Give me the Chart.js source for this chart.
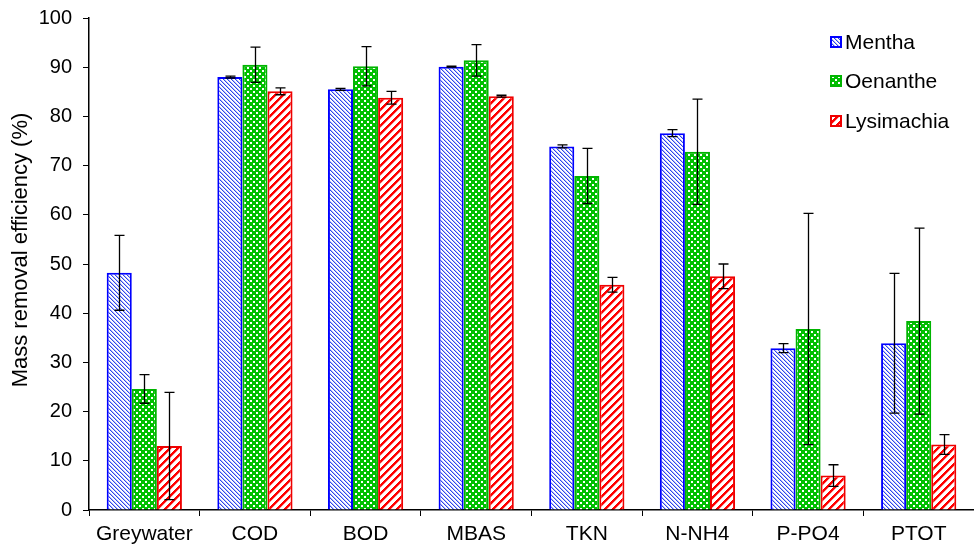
<!DOCTYPE html>
<html>
<head>
<meta charset="utf-8">
<script src="https://cdn.jsdelivr.net/npm/chart.js@4.4.0/dist/chart.umd.min.js"></script>
<style>
  html, body { margin: 0; padding: 0; background: #fff; }
  #wrap { width: 974px; height: 549px; position: relative; }
</style>
</head>
<body>
<div id="wrap"><canvas id="removalChart"></canvas></div>
<script>
// Mass removal efficiency - datos

const categories = ['Greywater', 'COD', 'BOD', 'MBAS', 'TKN', 'N-NH4', 'P-PO4', 'PTOT'];
const seriesNames = ['Mentha', 'Oenanthe', 'Lysimachia'];

const mentha = [48.2, 88.0, 85.5, 90.1, 73.9, 76.6, 32.9, 33.9];
const oenanthe = [24.6, 90.5, 90.2, 91.4, 67.9, 72.8, 36.8, 38.4];
const lysimachia = [13.0, 85.1, 83.8, 84.1, 45.8, 47.5, 7.0, 13.3];

const menthaErr = [7.6, 0.2, 0.2, 0.1, 0.3, 0.7, 0.9, 14.2];
const oenantheErr = [2.9, 3.6, 4.0, 3.2, 5.6, 10.7, 23.5, 18.9];
const lysimachiaErr = [10.9, 0.7, 1.3, 0.2, 1.5, 2.5, 2.2, 2.0];

const yTicks = [0, 10, 20, 30, 40, 50, 60, 70, 80, 90, 100];
const yTitle = 'Mass removal efficiency (%)';

const FONT = '"Liberation Sans", Arial, sans-serif';
let removalChart = null;

// patrones de relleno
function makePattern(kind) {
    const c = document.createElement('canvas');
    const ctx = c.getContext('2d');
    if (kind === 'blue') {
        c.width = 4; c.height = 4;
        ctx.fillStyle = '#ffffff';
        ctx.fillRect(0, 0, 4, 4);
        for (let y = 0; y < 4; y++) {
            for (let x = 0; x < 4; x++) {
                const m = ((x - y) % 4 + 4) % 4;
                if (m === 0) { ctx.fillStyle = '#2f45ee'; ctx.fillRect(x, y, 1, 1); }
                if (m === 1) { ctx.fillStyle = '#b4bbf8'; ctx.fillRect(x, y, 1, 1); }
            }
        }
    } else if (kind === 'green') {
        c.width = 6; c.height = 6;
        ctx.fillStyle = '#00c000';
        ctx.fillRect(0, 0, 6, 6);
        ctx.fillStyle = '#ffffff';
        ctx.fillRect(1, 1, 2, 2);
        ctx.fillRect(4, 4, 2, 2);
    } else {
        c.width = 8; c.height = 8;
        ctx.fillStyle = '#ffffff';
        ctx.fillRect(0, 0, 8, 8);
        for (let y = 0; y < 8; y++) {
            for (let x = 0; x < 8; x++) {
                const m = (x + y) % 8;
                if (m < 3) { ctx.fillStyle = '#ff0000'; ctx.fillRect(x, y, 1, 1); }
                else if (m === 3) { ctx.fillStyle = '#ffa0a0'; ctx.fillRect(x, y, 1, 1); }
            }
        }
    }
    return ctx.createPattern(c, 'repeat');
}

// barras de error
const errorBarsPlugin = {
    id: 'errorBars',
    afterDatasetsDraw(chart) {
        const ctx = chart.ctx;
        const yScale = chart.scales.y;
        ctx.save();
        ctx.strokeStyle = '#000000';
        ctx.lineWidth = 1.3;
        chart.data.datasets.forEach((ds, i) => {
            const meta = chart.getDatasetMeta(i);
            meta.data.forEach((bar, j) => {
                const v = ds.data[j];
                const e = ds.errors[j];
                const x = Math.round(bar.x) + 0.5;
                const yTop = yScale.getPixelForValue(v + e);
                const yBot = yScale.getPixelForValue(Math.max(v - e, 0));
                ctx.beginPath();
                ctx.moveTo(x, yTop);
                ctx.lineTo(x, yBot);
                ctx.moveTo(x - 5, yTop);
                ctx.lineTo(x + 5, yTop);
                ctx.moveTo(x - 5, yBot);
                ctx.lineTo(x + 5, yBot);
                ctx.stroke();
            });
        });
        ctx.restore();
    }
};

// leyenda dentro del area + titulo del eje
const legendPlugin = {
    id: 'insideLegend',
    afterDraw(chart) {
        const ctx = chart.ctx;
        const ys = [42, 81, 121];
        ctx.save();
        ctx.font = '21px ' + FONT;
        ctx.textBaseline = 'middle';
        chart.data.datasets.forEach((ds, i) => {
            const y = ys[i];
            ctx.fillStyle = ds.backgroundColor;
            ctx.fillRect(830, y - 6, 12, 12);
            ctx.strokeStyle = ds.borderColor;
            ctx.lineWidth = 2;
            ctx.strokeRect(831, y - 5, 10, 10);
            ctx.fillStyle = '#000000';
            ctx.fillText(ds.label, 845, y + 1);
        });
        ctx.restore();

        ctx.save();
        ctx.translate(27, 250);
        ctx.rotate(-Math.PI / 2);
        ctx.font = '22px ' + FONT;
        ctx.textAlign = 'center';
        ctx.textBaseline = 'alphabetic';
        ctx.fillStyle = '#000000';
        ctx.fillText(yTitle, 0, 0);
        ctx.restore();
    }
};

function createRemovalChart() {
    const canvas = document.getElementById('removalChart');
    if (removalChart) {
        removalChart.destroy();
    }
    const values = [mentha, oenanthe, lysimachia];
    const errs = [menthaErr, oenantheErr, lysimachiaErr];
    const borders = ['#0000ff', '#00b400', '#ee0000'];
    const patterns = [makePattern('blue'), makePattern('green'), makePattern('red')];

    removalChart = new Chart(canvas.getContext('2d'), {
        type: 'bar',
        data: {
            labels: categories,
            datasets: seriesNames.map((name, i) => ({
                label: name,
                data: values[i],
                errors: errs[i],
                backgroundColor: patterns[i],
                borderColor: borders[i],
                borderWidth: 2,
                borderSkipped: 'bottom',
                categoryPercentage: 0.68,
                barPercentage: 1.0
            }))
        },
        options: {
            responsive: true,
            maintainAspectRatio: false,
            animation: false,
            layout: { padding: { top: 18, right: 0, left: 0, bottom: 0 } },
            plugins: {
                legend: { display: false },
                tooltip: { enabled: false }
            },
            scales: {
                x: {
                    offset: true,
                    afterFit: function(axis) { axis.height = 39; },
                    border: { color: '#000000', width: 1.5 },
                    grid: {
                        offset: true,
                        drawOnChartArea: false,
                        drawTicks: true,
                        tickLength: 6,
                        color: '#000000'
                    },
                    ticks: {
                        color: '#000000',
                        padding: 6,
                        font: { family: FONT, size: 21 }
                    }
                },
                y: {
                    min: 0,
                    max: 100,
                    afterBuildTicks: function(axis) {
                        axis.ticks = yTicks.map(v => ({ value: v }));
                    },
                    afterFit: function(axis) {
                        axis.width = 89;
                        axis.paddingTop = 0;
                        axis.paddingBottom = 0;
                    },
                    border: { color: '#000000', width: 1.5 },
                    grid: {
                        drawOnChartArea: false,
                        drawTicks: true,
                        tickLength: 6,
                        color: '#000000'
                    },
                    ticks: {
                        color: '#000000',
                        padding: 11,
                        font: { family: FONT, size: 20 }
                    }
                }
            }
        },
        plugins: [errorBarsPlugin, legendPlugin]
    });
}

createRemovalChart();
</script>
</body>
</html>
